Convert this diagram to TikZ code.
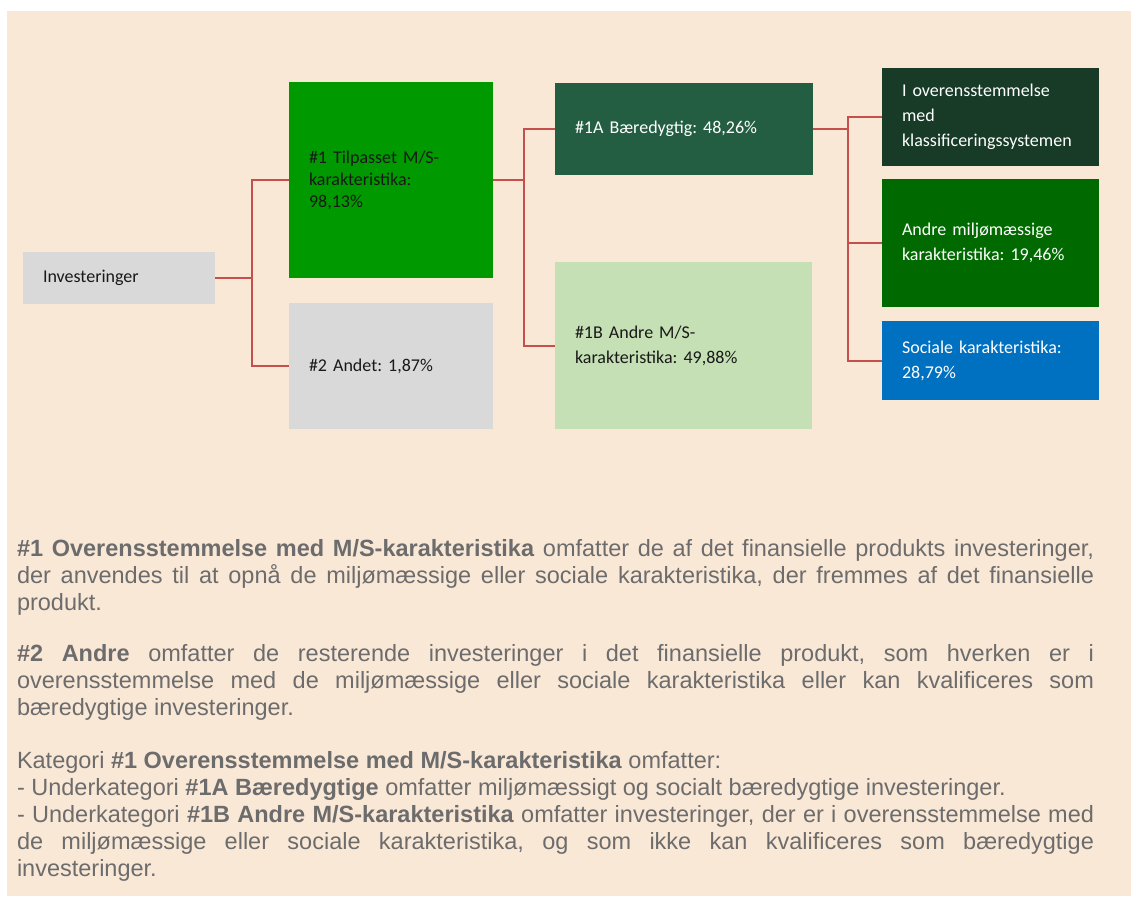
\documentclass[tikz,border=0pt]{standalone}
\usepackage{fontspec}
\setmainfont{Liberation Sans}
\newfontfamily\boxfont{Carlito}
\definecolor{beige}{RGB}{250,232,215}
\definecolor{lgray}{RGB}{217,217,217}
\definecolor{gbright}{RGB}{0,153,0}
\definecolor{gmid}{RGB}{36,94,66}
\definecolor{glight}{RGB}{197,224,180}
\definecolor{gdark}{RGB}{23,59,38}
\definecolor{gdeep}{RGB}{0,106,0}
\definecolor{sblue}{RGB}{0,112,192}
\definecolor{conncol}{RGB}{196,79,77}
\definecolor{txtgray}{RGB}{108,108,108}
\definecolor{darktxt}{RGB}{25,25,25}
\hyphenpenalty=10000
\exhyphenpenalty=10000
\frenchspacing
\begin{document}
\begin{tikzpicture}[x=1pt,y=-1pt,
  box/.style={anchor=north west, inner xsep=20pt, inner ysep=0pt, outer sep=0pt,
    align=left, font=\boxfont\fontsize{18}{25}\selectfont},
  conn/.style={draw=conncol, line width=2pt},
  para/.style={anchor=north west, inner sep=0pt, outer sep=0pt, text width=1077pt,
    align=justify, text=txtgray, font=\fontsize{23.5}{27}\selectfont}]
\useasboundingbox (0,0) rectangle (1134,897);
\fill[white] (0,0) rectangle (1134,897);
\fill[beige] (7,11) rectangle (1131,896);

\node[box, fill=lgray, text=darktxt, minimum width=192pt, minimum height=52pt, text width=152pt] (inv) at (23,252) {Investeringer};
\node[box, fill=gbright, text=darktxt, minimum width=204pt, minimum height=196pt, text width=164pt,
  font=\boxfont\fontsize{18}{22}\selectfont] (t1) at (289,82) {\#1 Tilpasset M/S-\\karakteristika:\\98,13\%};
\node[box, fill=lgray, text=darktxt, minimum width=204pt, minimum height=126pt, text width=164pt] (t2) at (289,303) {\#2 Andet: 1,87\%};
\node[box, fill=gmid, text=white, minimum width=258pt, minimum height=92pt, text width=218pt] (a1) at (555,83) {\#1A Bæredygtig: 48,26\%};
\node[box, fill=glight, text=darktxt, minimum width=257pt, minimum height=167pt, text width=217pt] (b1) at (555,262) {\#1B Andre M/S-\\karakteristika: 49,88\%};
\node[box, fill=gdark, text=white, minimum width=217pt, minimum height=98pt, text width=177pt] (c1) at (882,68) {I overensstemmelse\\med\\klassificeringssystemen};
\node[box, fill=gdeep, text=white, minimum width=217pt, minimum height=128pt, text width=177pt] (c2) at (882,179) {Andre miljømæssige\\karakteristika: 19,46\%};
\node[box, fill=sblue, text=white, minimum width=217pt, minimum height=79pt, text width=177pt] (c3) at (882,321) {Sociale karakteristika:\\28,79\%};

\coordinate (j1) at (252,278);
\coordinate (j2) at (524,180);
\coordinate (j3) at (848,129);
\draw[conn] (inv.east) -- (j1) |- (t1.west);
\draw[conn] (j1) |- (t2.west);
\draw[conn] (t1.east) -- (j2) |- (a1.west);
\draw[conn] (j2) |- (b1.west);
\draw[conn] (a1.east) -- (j3) |- (c1.west);
\draw[conn] (j3) |- (c2.west);
\draw[conn] (j3) |- (c3.west);

\node[para] (p1) at (17,539) {\textbf{\#1 Overensstemmelse med M/S-karakteristika} omfatter de af det finansielle produkts investeringer,\linebreak der anvendes til at opnå de miljømæssige eller sociale karakteristika, der fremmes af det finansielle\linebreak produkt.};
\node[para] (p2) at (17,644) {\textbf{\#2 Andre} omfatter de resterende investeringer i det finansielle produkt, som hverken er i\linebreak overensstemmelse med de miljømæssige eller sociale karakteristika eller kan kvalificeres som\linebreak bæredygtige investeringer.};
\node[para] (p3) at (17,751) {Kategori \textbf{\#1 Overensstemmelse med M/S-karakteristika} omfatter:\\- Underkategori \textbf{\#1A Bæredygtige} omfatter miljømæssigt og socialt bæredygtige investeringer.\\- Underkategori \textbf{\#1B Andre M/S-karakteristika} omfatter investeringer, der er i overensstemmelse med\linebreak de miljømæssige eller sociale karakteristika, og som ikke kan kvalificeres som bæredygtige\linebreak investeringer.};
\end{tikzpicture}
\end{document}
